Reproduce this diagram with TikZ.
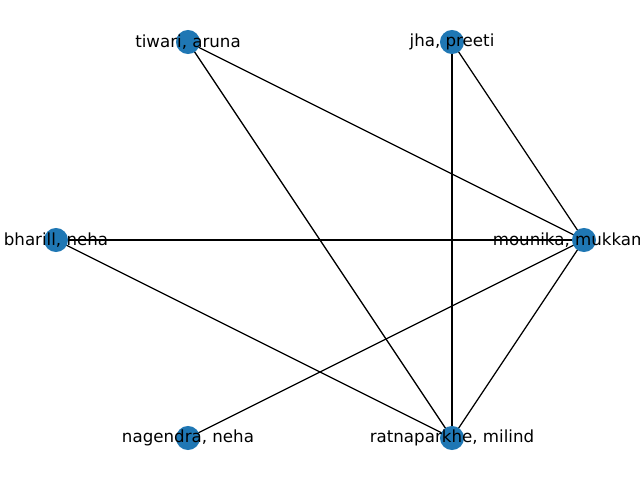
\documentclass[tikz,border=0pt]{standalone}
\usepackage{fontspec}
\setmainfont{DejaVu Sans}
\usepackage{tikz}
\usetikzlibrary{positioning}
\definecolor{vertexColor}{HTML}{1F77B4}
\tikzstyle{graphFrame} = [x = .72pt, y = -.72pt]
\tikzstyle{vertexStyle} = [circle, fill=vertexColor, minimum size=17.3pt, inner sep=0pt]
\tikzstyle{edgeStyle} = [color=black, line width=.9pt]
\tikzstyle{vertexText} = [font=\fontsize{12pt}{14pt}\selectfont, inner sep=0pt]
\newcommand{\vertex}[3]{\coordinate (#1) at (#2, #3);}
\newcommand{\edge}[2]{\draw [edgeStyle] (#1) -- (#2);}

\begin{document}
\begin{tikzpicture}[graphFrame]
  \clip (0,0) rectangle (640,480);
  \vertex{tiwari}{188}{42}
  \vertex{jha}{452}{42}
  \vertex{bharill}{56}{240}
  \vertex{mounika}{584}{240}
  \vertex{nagendra}{188}{438}
  \vertex{ratnaparkhe}{452}{438}
  % edges under the vertices
  \foreach \from/\to in {tiwari/mounika, tiwari/ratnaparkhe, jha/mounika, jha/ratnaparkhe,
    bharill/mounika, bharill/ratnaparkhe, nagendra/mounika, mounika/ratnaparkhe} {
    \edge{\from}{\to}
  }
  \foreach \v in {tiwari, jha, bharill, mounika, nagendra, ratnaparkhe} {
    \node [vertexStyle] (\v Dot) at (\v) {};
  }
  % labels
  \node [vertexText] (tiwariText) at (tiwari) {tiwari, aruna};
  \node [vertexText] (jhaText) at (jha) {jha, preeti};
  \node [vertexText] (bharillText) at (bharill) {bharill, neha};
  \node [vertexText, anchor=west] (mounikaText) at (492.5, 240) {mounika, mukkam};
  \node [vertexText] (nagendraText) at (nagendra) {nagendra, neha};
  \node [vertexText] (ratnaparkheText) at (ratnaparkhe) {ratnaparkhe, milind};
\end{tikzpicture}
\end{document}
